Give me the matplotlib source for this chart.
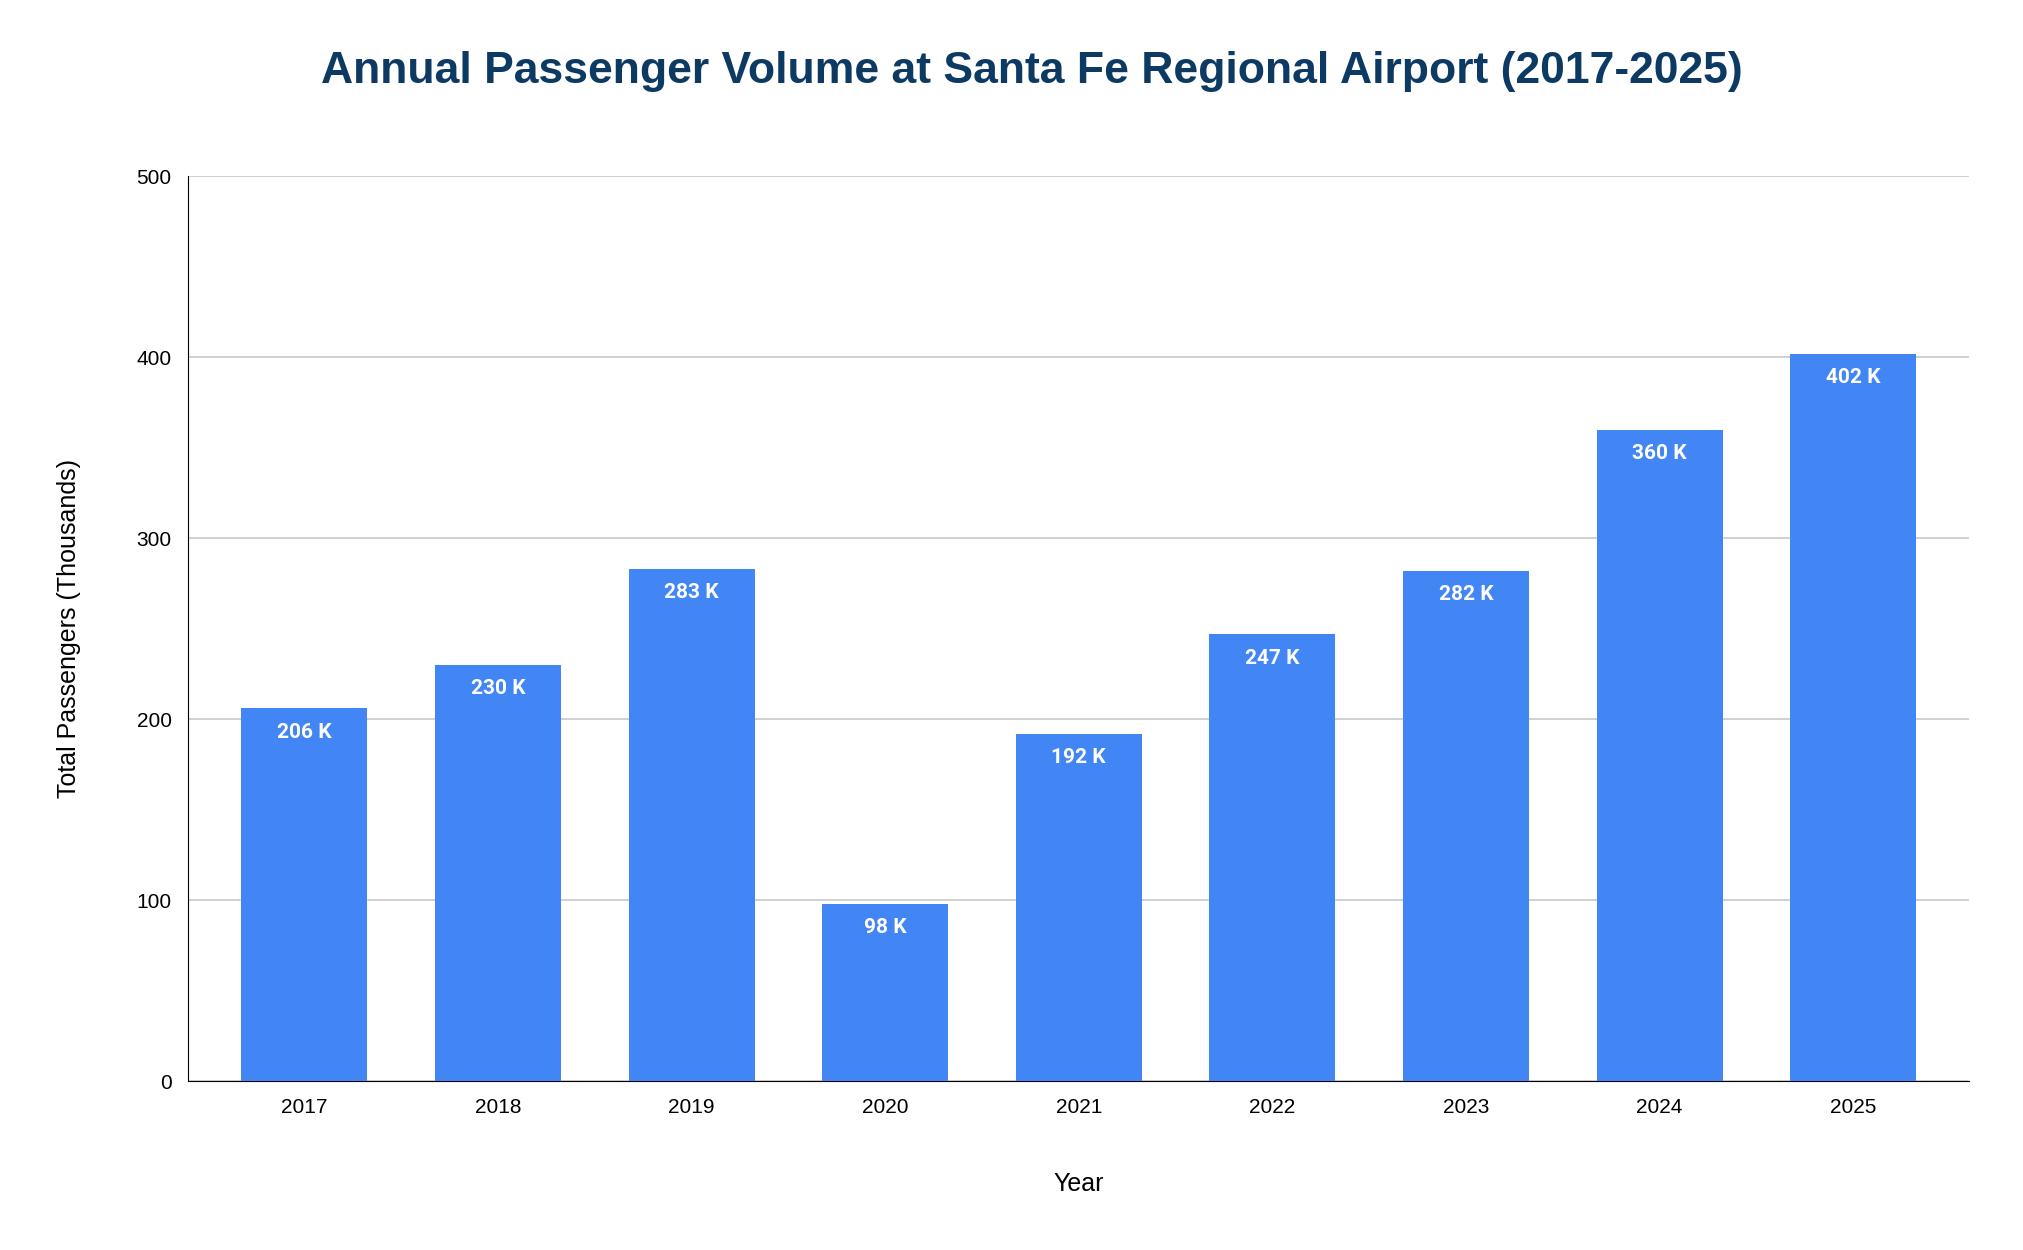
import matplotlib.pyplot as plt

years = ["2017", "2018", "2019", "2020", "2021", "2022", "2023", "2024", "2025"]
passengers = [206, 230, 283, 98, 192, 247, 282, 360, 402]
bar_labels = ["206 K", "230 K", "283 K", "98 K", "192 K", "247 K", "282 K", "360 K", "402 K"]

plt.rcParams['font.family'] = ['Liberation Sans', 'DejaVu Sans']

fig = plt.figure(figsize=(20.24, 12.5), dpi=100)
ax = fig.add_axes([0.093, 0.135, 0.88, 0.724])

x = range(len(years))
bars = ax.bar(x, passengers, width=0.65, color="#4285f4", zorder=3)
for rect, lab in zip(bars, bar_labels):
    ax.text(rect.get_x() + rect.get_width() / 2, rect.get_height() - 8, lab,
            ha="center", va="top", color="white", fontsize=15, fontweight="bold",
            family=["Roboto", "DejaVu Sans"], zorder=4)

ax.set_xlim(-0.6, len(years) - 0.4)
ax.set_ylim(0, 500)
ax.set_yticks([0, 100, 200, 300, 400, 500])
ax.set_xticks(list(x))
ax.set_xticklabels(years)
ax.tick_params(length=0, labelsize=15, pad=12)
ax.grid(axis="y", color="#c8c8c8", linewidth=1.2, zorder=0)
for s in ["top", "right"]:
    ax.spines[s].set_visible(False)
ax.spines["left"].set_color("black")
ax.spines["bottom"].set_color("black")

ax.set_xlabel("Year", fontsize=18, labelpad=40)
ax.set_ylabel("Total Passengers (Thousands)", fontsize=18, labelpad=40)

fig.text(0.51, 0.943, "Annual Passenger Volume at Santa Fe Regional Airport (2017-2025)",
         ha="center", va="center", fontsize=32, fontweight="bold", color="#0d3a63")

fig.savefig("out.png", dpi=100)
